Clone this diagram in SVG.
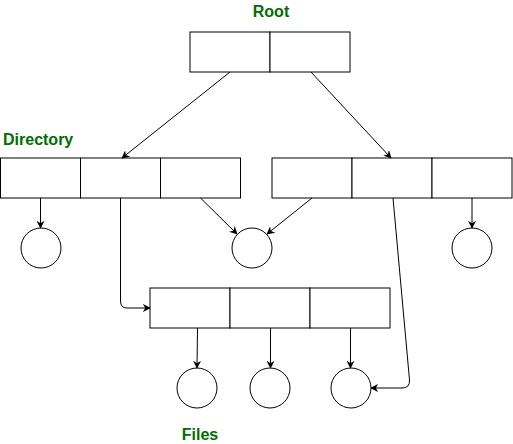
<svg xmlns="http://www.w3.org/2000/svg" width="513" height="444" viewBox="0 0 513 444">
<style>
.cell{fill:#ffffff;stroke:#000000;stroke-width:1}
.c{fill:#ffffff;stroke:#000000;stroke-width:1}
.lbl{font-family:"Liberation Sans",Arial,sans-serif;font-size:16px;font-weight:bold;fill:#006e00}
.e{fill:none;stroke:#000000;stroke-width:1;marker-end:url(#a)}
</style>
<defs>
<marker id="a" viewBox="0 0 10 10" refX="9" refY="5" markerWidth="8" markerHeight="8" markerUnits="userSpaceOnUse" orient="auto">
<path d="M0,0 L10,5 L0,10 L3,5 Z" fill="#000000"/>
</marker>
</defs>
<rect width="513" height="444" fill="#ffffff"/>
<g id="label-root"><text class="lbl" x="271" y="17" text-anchor="middle">Root</text></g>
<g id="label-directory"><text class="lbl" x="3" y="145">Directory</text></g>
<g id="label-files"><text class="lbl" x="200" y="440" text-anchor="middle">Files</text></g>
<g id="root">
<rect class="cell" x="190" y="32" width="80" height="40"/>
<rect class="cell" x="270" y="32" width="80" height="40"/>
</g>
<g id="dir-left">
<rect class="cell" x="0.5" y="158" width="80" height="40"/>
<rect class="cell" x="80.5" y="158" width="80" height="40"/>
<rect class="cell" x="160.5" y="158" width="80" height="40"/>
</g>
<g id="dir-right">
<rect class="cell" x="272" y="158" width="80" height="40"/>
<rect class="cell" x="352" y="158" width="80" height="40"/>
<rect class="cell" x="432" y="158" width="80" height="40"/>
</g>
<g id="files-dir">
<rect class="cell" x="150" y="288" width="80" height="40"/>
<rect class="cell" x="230" y="288" width="80" height="40"/>
<rect class="cell" x="310" y="288" width="80" height="40"/>
</g>
<g id="file-1"><circle class="c" cx="41" cy="248" r="20"/></g>
<g id="file-2"><circle class="c" cx="252" cy="248" r="20"/></g>
<g id="file-3"><circle class="c" cx="472" cy="248" r="20"/></g>
<g id="file-4"><circle class="c" cx="197" cy="388" r="20"/></g>
<g id="file-5"><circle class="c" cx="270" cy="388" r="20"/></g>
<g id="file-6"><circle class="c" cx="351" cy="388" r="20"/></g>
<g id="connectors">
<path class="e" d="M230,72 L122,158"/>
<path class="e" d="M311,72 L391,158"/>
<path class="e" d="M40.5,198 L40.5,228"/>
<path class="e" d="M200.5,198 L237,234"/>
<path class="e" d="M312,198 L267,234"/>
<path class="e" d="M472,198 L472,228"/>
<path class="e" d="M120.5,198 L120.5,301 Q120.5,308 127,308 L150,308"/>
<path class="e" d="M393,198 L409.5,380 Q410,388 402,388 L371,388"/>
<path class="e" d="M197.5,328 L197,368"/>
<path class="e" d="M270.5,328 L270.5,368"/>
<path class="e" d="M350.5,328 L350.5,368"/>
</g>
</svg>
